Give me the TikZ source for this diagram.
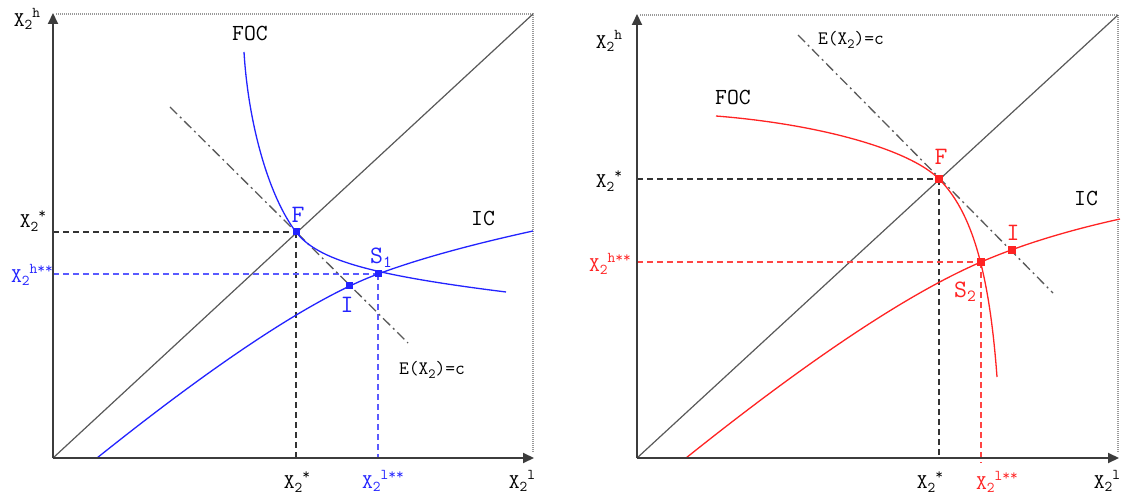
\documentclass[tikz,border=0pt]{standalone}
\usetikzlibrary{arrows.meta}
\definecolor{myblue}{RGB}{35,35,255}
\definecolor{lblue}{RGB}{90,90,255}
\definecolor{myred}{RGB}{255,35,35}
\definecolor{axisgray}{RGB}{60,60,60}
\newcommand\xlab[1]{X\raisebox{-0.4ex}{\fontsize{15}{15}\selectfont 2}\raisebox{1.0ex}{\fontsize{15}{15}\selectfont #1}}
\newcommand\subtwo{\raisebox{-0.4ex}{\fontsize{14}{14}\selectfont 2}}
\begin{document}
\begin{tikzpicture}[x=1pt,y=-1pt,
  ax/.style={axisgray,line width=2pt,-{Triangle[length=11pt,width=10pt]}},
  border/.style={gray!80,line width=1.5pt,dash pattern=on 1pt off 1pt},
  diag/.style={black!65,line width=1.2pt},
  guide/.style={black!80,line width=1.3pt,dash pattern=on 6pt off 4pt},
  bguide/.style={lblue,line width=1.5pt,dash pattern=on 6pt off 4pt},
  rguide/.style={myred!85,line width=1.3pt,dash pattern=on 6pt off 4pt},
  eline/.style={black!65,line width=1.3pt,dash pattern=on 10pt off 4pt on 2pt off 4pt},
  bcurve/.style={myblue,line width=1.3pt},
  rcurve/.style={myred,line width=1.3pt},
  bpt/.style={fill=myblue,rectangle,minimum size=7pt,inner sep=0pt},
  rpt/.style={fill=myred,rectangle,minimum size=8pt,inner sep=0pt},
  lab/.style={font=\ttfamily\fontsize{21}{21}\selectfont,inner sep=0pt},
  wlab/.style={font=\ttfamily\fontsize{23}{23}\selectfont,inner sep=0pt},
  elab/.style={font=\ttfamily\fontsize{19}{19}\selectfont,inner sep=0pt},
  plab/.style={font=\ttfamily\fontsize{25}{25}\selectfont,inner sep=0pt},
]
\useasboundingbox (0,0) rectangle (1126,502);
\fill[white] (0,0) rectangle (1126,502);

% ================= LEFT PANEL =================
\coordinate (O1) at (53,458);
\coordinate (Y1) at (53,13);
\coordinate (X1) at (534,458);
\coordinate (TL1) at (56,14);
\coordinate (TR1) at (533,14);
\coordinate (BR1) at (533,452);
\coordinate (pF1) at (296,232);
\coordinate (pS1) at (378,274);
\coordinate (pI1) at (349,286);
\coordinate (F1x) at (296,458);
\coordinate (F1y) at (53,232);
\coordinate (S1x) at (378,458);
\coordinate (S1y) at (53,274);
\coordinate (E1a) at (170,107);
\coordinate (E1b) at (408,343);
\coordinate (FOC1a) at (244,52);
\coordinate (FOC1b) at (506,292);
\coordinate (IC1a) at (97,458);
\coordinate (IC1b) at (533,231);

\draw[border] (TL1) -- (TR1) -- (BR1);
\draw[diag] (O1) -- (TR1);
\draw[guide] (F1y) -- (pF1);
\draw[guide] (pF1) -- (F1x);
\draw[bguide] (S1y) -- (pS1);
\draw[bguide] (pS1) -- (S1x);
\draw[eline] (E1a) -- (E1b);
\draw[bcurve] (FOC1a) .. controls (248.4,125.1) and (269.2,197.1) .. (pF1)
  .. controls (317.5,260) and (370,275) .. (FOC1b);
\draw[bcurve] (IC1a) .. controls (221,358.8) and (314.7,297.5) .. (pS1)
  .. controls (417.3,259.4) and (469,245) .. (IC1b);
\draw[ax] (O1) -- (Y1);
\draw[ax] (O1) -- (X1);
\node[bpt] (F1) at (pF1) {};
\node[bpt] (S1) at (pS1) {};
\node[bpt] (I1) at (pI1) {};

\node[lab] (l1yh) at (27,19) {\xlab{h}};
\node[lab] (l1ys) at (33,221) {\xlab{*}};
\node[lab,text=myblue] (l1yhh) at (32,275) {\xlab{h**}};
\node[lab] (l1xs) at (297,482) {\xlab{*}};
\node[lab,text=myblue] (l1xll) at (383,481) {\xlab{l**}};
\node[lab] (l1xl) at (522,481) {\xlab{l}};
\node[wlab] (l1foc) at (250,33) {FOC};
\node[wlab] (l1ic) at (483,218) {IC};
\node[elab] (l1e) at (432,370) {E(X\subtwo)=c};
\node[plab,text=myblue] (l1F) at (298,215) {F};
\node[plab,text=myblue] (l1S) at (381,258) {S\raisebox{-0.4ex}{\fontsize{17}{17}\selectfont 1}};
\node[plab,text=myblue] (l1I) at (347,305) {I};

% ================= RIGHT PANEL =================
\coordinate (O2) at (637,458);
\coordinate (Y2) at (637,14);
\coordinate (X2) at (1119,458);
\coordinate (TL2) at (640,15);
\coordinate (TR2) at (1118,15);
\coordinate (BR2) at (1118,452);
\coordinate (pF2) at (939,179);
\coordinate (pS2) at (981,262);
\coordinate (pI2) at (1012,250);
\coordinate (F2x) at (939,458);
\coordinate (F2y) at (637,179);
\coordinate (S2x) at (981,463);
\coordinate (S2y) at (637,262);
\coordinate (E2a) at (798,35);
\coordinate (E2b) at (1053,293);
\coordinate (FOC2a) at (716,116);
\coordinate (FOC2b) at (997,377);
\coordinate (IC2a) at (686,458);
\coordinate (IC2b) at (1120,219);

\draw[border] (TL2) -- (TR2) -- (BR2);
\draw[diag] (O2) -- (TR2);
\draw[guide] (F2y) -- (pF2);
\draw[guide] (pF2) -- (F2x);
\draw[rguide] (S2y) -- (pS2);
\draw[rguide] (pS2) -- (S2x);
\draw[eline] (E2a) -- (E2b);
\draw[rcurve] (FOC2a) .. controls (820.3,124.3) and (909.6,149.6) .. (pF2)
  .. controls (971.8,211.8) and (989.2,271.2) .. (FOC2b);
\draw[rcurve] (IC2a) .. controls (810.7,358.3) and (909,293) .. (pS2)
  .. controls (1020.3,245.1) and (1066.7,230.7) .. (IC2b);
\draw[ax] (O2) -- (Y2);
\draw[ax] (O2) -- (X2);
\node[rpt] (F2) at (pF2) {};
\node[rpt] (S2) at (pS2) {};
\node[rpt] (I2) at (pI2) {};

\node[lab] (l2yh) at (609,41) {\xlab{h}};
\node[lab] (l2ys) at (609,181) {\xlab{*}};
\node[lab,text=myred] (l2yhh) at (610,264) {\xlab{h**}};
\node[lab] (l2xs) at (930,482) {\xlab{*}};
\node[lab,text=myred] (l2xll) at (997,482) {\xlab{l**}};
\node[lab] (l2xl) at (1107,481) {\xlab{l}};
\node[wlab] (l2foc) at (733,97) {FOC};
\node[wlab] (l2ic) at (1086,198) {IC};
\node[elab] (l2e) at (851,40) {E(X\subtwo)=c};
\node[plab,text=myred] (l2F) at (941,157) {F};
\node[plab,text=myred] (l2S) at (965,292) {S\raisebox{-0.4ex}{\fontsize{17}{17}\selectfont 2}};
\node[plab,text=myred] (l2I) at (1013,233) {I};
\end{tikzpicture}
\end{document}
